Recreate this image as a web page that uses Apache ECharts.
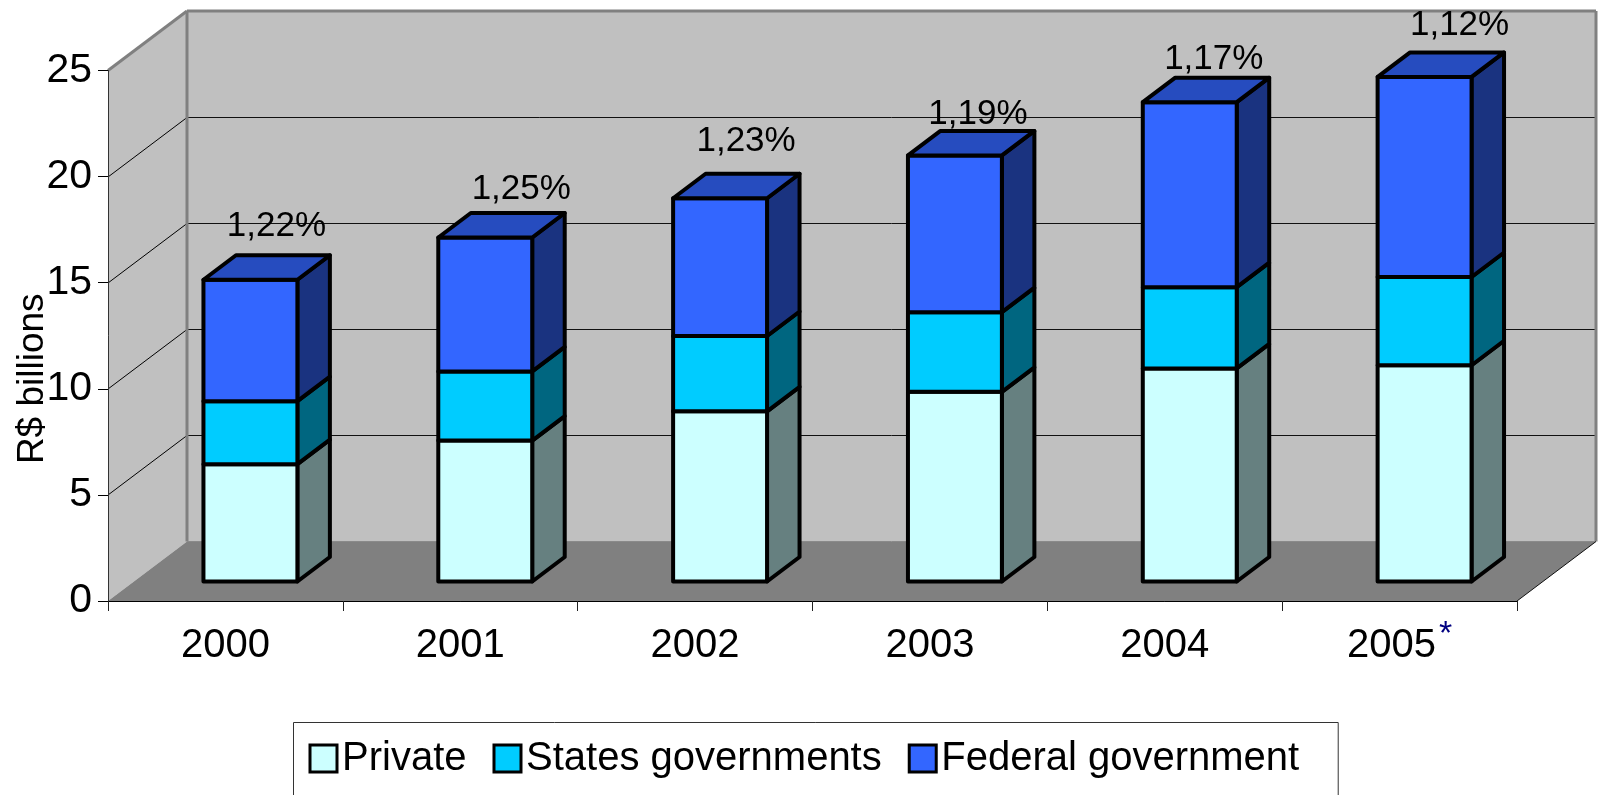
<!DOCTYPE html>
<html><head><meta charset="utf-8">
<style>html,body{margin:0;padding:0;background:#fff;overflow:hidden}#c{width:1598px;height:795px}</style>
<script src="https://cdn.jsdelivr.net/npm/echarts@6/dist/echarts.min.js"></script>
</head><body><div id="c"></div>
<script>
const years = ['2000','2001','2002','2003','2004','2005'];
const footnotedYear = '2005';
const privateValues = [5.53,6.64,8.02,8.94,10.04,10.19];
const statesValues = [2.97,3.26,3.55,3.75,3.83,4.16];
const federalValues = [5.72,6.31,6.49,7.39,8.72,9.43];
const shareLabels = ['1,22%','1,25%','1,23%','1,19%','1,17%','1,12%'];
const yTicks = [0,5,10,15,20,25];

const FONT = '"Liberation Sans", Arial, sans-serif';
const WALL_DX = 79, WALL_DY = -59.5;
const BAR_DX = 25, BAR_DY = -19.5;
const SIDE_DX = 32.5, SIDE_DY = -24.5;
const labelNudge = [[0,-1],[10,4],[0,-5],[-3,11],[-2,9],[9,0]];

const chart = echarts.init(document.getElementById('c'));

function sumTo(i, arrays){ return arrays.reduce((s,a)=>s+a[i],0); }

function wallsRender(params, api){
  const cs = params.coordSys;
  const l = cs.x, r = cs.x + cs.width;
  const b = cs.y + cs.height, t = cs.y;
  const ch = [];
  const poly = (pts, fill, stroke, lw) => ({type:'polygon',shape:{points:pts},silent:true,
    style:{fill:fill,stroke:stroke||null,lineWidth:lw||0}});
  const line = (x1,y1,x2,y2,c,w) => ({type:'line',silent:true,shape:{x1,y1,x2,y2},style:{stroke:c,lineWidth:w,fill:null}});
  ch.push(poly([[l,b],[l,t],[l+WALL_DX,t+WALL_DY],[l+WALL_DX,b+WALL_DY]],'#c0c0c0'));
  ch.push(poly([[l+WALL_DX,t+WALL_DY],[r+WALL_DX,t+WALL_DY],[r+WALL_DX,b+WALL_DY],[l+WALL_DX,b+WALL_DY]],'#c0c0c0'));
  ch.push(poly([[l,b],[r,b],[r+WALL_DX,b+WALL_DY],[l+WALL_DX,b+WALL_DY]],'#808080'));
  yTicks.forEach(v=>{
    if(v===0||v===25) return;
    const y = Math.round(api.coord([0,v])[1]);
    ch.push(line(l,y,l+WALL_DX,y+WALL_DY,'#000',1));
    ch.push(line(l+WALL_DX,y+WALL_DY,r+WALL_DX,y+WALL_DY,'#111',1));
  });
  ch.push(line(l,t,l+WALL_DX,t+WALL_DY,'#808080',3));
  ch.push(line(l+WALL_DX,t+WALL_DY,r+WALL_DX,t+WALL_DY,'#808080',3));
  ch.push(line(l+WALL_DX,t+WALL_DY,l+WALL_DX,b+WALL_DY,'#808080',3));
  ch.push(line(r+WALL_DX,t+WALL_DY,r+WALL_DX,b+WALL_DY,'#808080',3));
  ch.push(line(l+WALL_DX,b+WALL_DY,r+WALL_DX,b+WALL_DY,'#8a8a8a',1));
  ch.push(line(r,b,r+WALL_DX,b+WALL_DY,'#111',1));
  return {type:'group',children:ch};
}

function barRender(front, side, isTop){
  return function(params, api){
    const i = api.value(0), lo = api.value(1), hi = api.value(2);
    const w = api.size([1,0])[0]*0.4;
    const pl = api.coord([i,lo]), ph = api.coord([i,hi]);
    const x0 = pl[0]-w/2+BAR_DX, x1 = x0+w;
    const y0 = pl[1]+BAR_DY, y1 = ph[1]+BAR_DY;
    const st = (fill)=>({fill:fill,stroke:'#000',lineWidth:4,lineJoin:'round'});
    const ch = [
      {type:'polygon',shape:{points:[[x1,y0],[x1+SIDE_DX,y0+SIDE_DY],[x1+SIDE_DX,y1+SIDE_DY],[x1,y1]]},style:st(side)},
      {type:'polygon',shape:{points:[[x0,y0],[x1,y0],[x1,y1],[x0,y1]]},style:st(front)}
    ];
    if(isTop){
      ch.push({type:'polygon',shape:{points:[[x0,y1],[x1,y1],[x1+SIDE_DX,y1+SIDE_DY],[x0+SIDE_DX,y1+SIDE_DY]]},style:st('#264cbf')});
      const n = labelNudge[i];
      ch.push({type:'text',silent:true,style:{
        x:x0+w/2+26+n[0], y:y1+SIDE_DY-10+n[1],
        text:shareLabels[i], fill:'#000', font:'35px '+FONT, align:'center', verticalAlign:'bottom'}});
    }
    return {type:'group',children:ch};
  };
}

const privateData = years.map((y,i)=>[i,0,privateValues[i]]);
const statesData = years.map((y,i)=>[i,privateValues[i],sumTo(i,[privateValues,statesValues])]);
const federalData = years.map((y,i)=>[i,sumTo(i,[privateValues,statesValues]),sumTo(i,[privateValues,statesValues,federalValues])]);

function barSeries(name,data,front,side,isTop,z){
  return {type:'custom',name,data,z,clip:false,silent:true,coordinateSystem:'cartesian2d',
    encode:{x:0,y:[1,2]},itemStyle:{color:front},renderItem:barRender(front,side,isTop)};
}
const legendIcon = c => ({icon:'rect',itemStyle:{color:c,borderColor:'#000',borderWidth:3}});

chart.setOption({
  animation:false,
  backgroundColor:'#fff',
  textStyle:{fontFamily:FONT},
  grid:{left:108,right:81,top:70.5,bottom:194,containLabel:false,outerBoundsMode:'none'},
  legend:{
    left:293.5, top:722.5, orient:'horizontal', selectedMode:false,
    padding:[16,39,70,15], itemGap:26, itemWidth:27, itemHeight:27,
    borderColor:'#333', borderWidth:1, backgroundColor:'#fff',
    textStyle:{fontFamily:FONT,fontSize:40,color:'#000'},
    data:[
      Object.assign({name:'Private'},legendIcon('#ccffff')),
      Object.assign({name:'States governments'},legendIcon('#00ccff')),
      Object.assign({name:'Federal government'},legendIcon('#3366ff'))
    ]
  },
  xAxis:{
    type:'category',data:years,z:5,
    axisLine:{onZero:false,lineStyle:{color:'#000',width:1}},
    axisTick:{show:true,length:10,lineStyle:{color:'#222',width:1}},
    axisLabel:{
      margin:17,color:'#000',fontFamily:FONT,interval:0,
      formatter:v=> v===footnotedYear ? '{v|'+v+'}{s|*}' : '{v|'+v+'}',
      rich:{
        v:{fontSize:40,color:'#000',fontFamily:FONT,lineHeight:48,verticalAlign:'bottom'},
        s:{fontSize:34,color:'#000080',fontFamily:FONT,lineHeight:48,verticalAlign:'top',padding:[0,0,0,3]}
      }
    }
  },
  yAxis:{
    type:'value',min:0,max:25,interval:5,z:5,
    name:'R$ billions',nameLocation:'middle',nameGap:57,nameRotate:90,nameMoveOverlap:false,
    nameTextStyle:{fontSize:37,color:'#000',fontFamily:FONT,padding:[0,86,0,0]},
    splitLine:{show:false},
    axisLine:{show:true,lineStyle:{color:'#333',width:1}},
    axisTick:{show:true,length:10,lineStyle:{color:'#000',width:1}},
    axisLabel:{margin:16,fontSize:41,color:'#000',fontFamily:FONT,padding:[0,0,9,0]}
  },
  series:[
    {type:'custom',name:'walls',data:[[0,0]],z:1,clip:false,silent:true,coordinateSystem:'cartesian2d',
     encode:{x:0,y:1},renderItem:wallsRender},
    barSeries('Private',privateData,'#ccffff','#668080',false,2),
    barSeries('States governments',statesData,'#00ccff','#006680',false,3),
    barSeries('Federal government',federalData,'#3366ff','#1a3380',true,4)
  ]
});
</script></body></html>
